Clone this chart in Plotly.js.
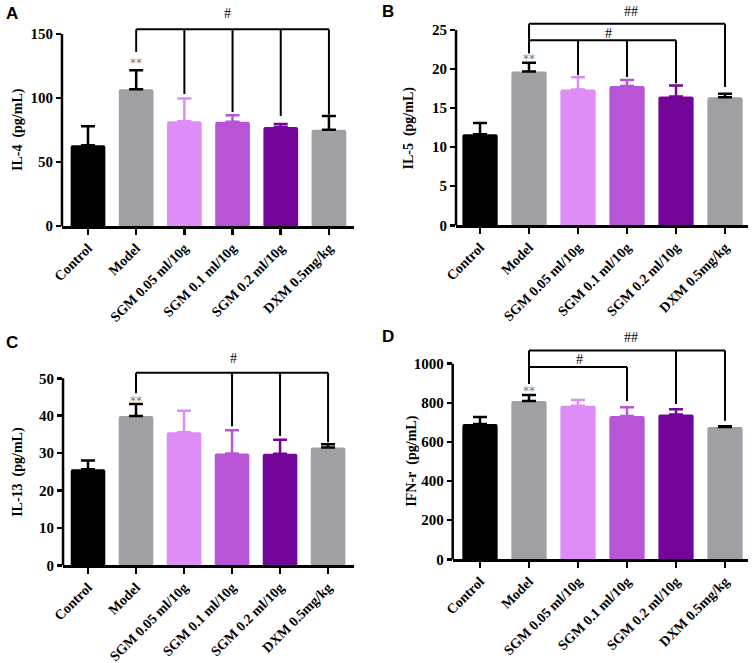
<!DOCTYPE html>
<html>
<head>
<meta charset="utf-8">
<script src="https://cdn.plot.ly/plotly-3.0.1.min.js"></script>
<style>html,body{margin:0;padding:0;background:#fff;}#chart{width:753px;height:663px;}</style>
</head>
<body>
<div id="chart"></div>
<script>
// ---- data ----
var categories = ['Control', 'Model', 'SGM 0.05 ml/10g', 'SGM 0.1 ml/10g', 'SGM 0.2 ml/10g', 'DXM 0.5mg/kg'];
var il4Mean  = [63, 106.8, 81.8, 81.5, 77.3, 75.2];
var il4Err   = [15, 14.8, 17.7, 5.0, 2.4, 10.8];
var il5Mean  = [11.65, 19.7, 17.4, 17.85, 16.5, 16.4];
var il5Err   = [1.45, 1.1, 1.55, 0.75, 1.4, 0.45];
var il13Mean = [25.7, 39.9, 35.6, 29.9, 29.8, 31.5];
var il13Err  = [2.3, 3.2, 5.7, 6.2, 3.8, 0.9];
var ifnMean  = [692, 809, 785, 733, 741, 676];
var ifnErr   = [35, 31, 29, 44, 26, 4];
var il4Ticks  = [0, 50, 100, 150];
var il5Ticks  = [0, 5, 10, 15, 20, 25];
var il13Ticks = [0, 10, 20, 30, 40, 50];
var ifnTicks  = [0, 200, 400, 600, 800, 1000];
var yTitles = ['IL-4\u00a0 (pg/mL)', 'IL-5\u00a0 (pg/mL)', 'IL-13\u00a0 (pg/mL)', 'IFN-r\u00a0 (pg/mL)'];
var panelLetters = ['A', 'B', 'C', 'D'];

// ---- styles ----
var barColors = ['#000000', '#A09FA4', '#DE8CF6', '#B854D6', '#730598', '#A09FA4'];
var errColors = ['#000000', '#000000', '#DE8CF6', '#B854D6', '#730598', '#000000'];
var serif = 'Liberation Serif, Times New Roman, serif';

var panels = [
  {sfx:'',  mean:il4Mean,  err:il4Err,  ticks:il4Ticks,  yr:[0,157],  xr:[-0.54,5.52], xd:[0.0823,0.4701], yd:[0.6591,0.9623], titleX:0.024, letter:[0.016,0.979]},
  {sfx:'2', mean:il5Mean,  err:il5Err,  ticks:il5Ticks,  yr:[0,26.3], xr:[-0.49,5.47], xd:[0.6056,0.9934], yd:[0.6602,0.9700], titleX:0.543, letter:[0.515,0.982]},
  {sfx:'3', mean:il13Mean, err:il13Err, ticks:il13Ticks, yr:[0,52.2], xr:[-0.52,5.54], xd:[0.0837,0.4701], yd:[0.1474,0.4418], titleX:0.024, letter:[0.016,0.484]},
  {sfx:'4', mean:ifnMean,  err:ifnErr,  ticks:ifnTicks,  yr:[0,1080], xr:[-0.557,5.47], xd:[0.6012,0.9934], yd:[0.1564,0.4750], titleX:0.546, letter:[0.515,0.492]}
];

// significance brackets: [yLevel, fromIdx, toIdx, drops [idx, yEnd]]
var brackets = [
  [ {y:153.6, from:1, to:5, drops:[[1,136],[2,103],[3,89],[4,86],[5,87]]} ],
  [ {y:25.8, from:1, to:5, drops:[[1,22.0],[5,17.7]]},
    {y:23.7, from:1, to:4, drops:[[2,19.2],[3,19.0],[4,18.2]]} ],
  [ {y:51.5, from:1, to:5, drops:[[1,46],[3,37.2],[4,34.6],[5,32.9]]} ],
  [ {y:1068, from:1, to:5, drops:[[1,896],[4,794],[5,709]]},
    {y:983, from:1, to:3, drops:[[3,809]]} ]
];
// significance labels: [text, xPos, yPos]
var sigLabels = [
  [['#', 2.9, 165.6], ['**', 1, 127]],
  [['##', 3.08, 27.4], ['#', 2.63, 24.6], ['**', 1, 21.3]],
  [['#', 3.03, 55.4], ['**', 1, 44]],
  [['##', 3.08, 1136], ['#', 2.04, 1024], ['**', 1, 860]]
];

var traces = [];
var layout = {
  width: 753, height: 663,
  margin: {l:0, r:0, t:0, b:0},
  paper_bgcolor: '#fff', plot_bgcolor: 'rgba(0,0,0,0)',
  barmode: 'overlay', showlegend: false,
  shapes: [], annotations: []
};

panels.forEach(function(p, pi) {
  var xa = 'x' + p.sfx, ya = 'y' + p.sfx;
  var toDom = function(v) { return (v - p.yr[0]) / (p.yr[1] - p.yr[0]); };
  for (var i = 0; i < categories.length; i++) {
    traces.push({
      type: 'bar', x: [categories[i]], y: [p.mean[i]],
      xaxis: xa, yaxis: ya, width: 0.72,
      marker: {color: barColors[i], line: {width: 0}, cornerradius: 2},
      error_y: {type: 'data', symmetric: false, array: [p.err[i]], arrayminus: [0],
                color: errColors[i], thickness: 2.5, width: 7},
      hoverinfo: 'skip', showlegend: false
    });
  }
  layout['xaxis' + p.sfx] = {
    domain: p.xd, anchor: ya, type: 'category',
    categoryorder: 'array', categoryarray: categories,
    range: p.xr, showline: true, linewidth: 2.5, linecolor: '#000',
    ticks: 'outside', ticklen: 6, tickwidth: 2.5, tickcolor: '#000',
    tickangle: -45, showgrid: false, zeroline: false, fixedrange: true,
    tickfont: {family: serif, size: 14, color: '#000', weight: 'bold'}
  };
  layout['yaxis' + p.sfx] = {
    domain: p.yd, anchor: xa, range: p.yr,
    showline: false, tickvals: p.ticks, ticktext: p.ticks.map(String),
    ticks: 'outside', ticklen: 5, tickwidth: 2.5, tickcolor: '#000',
    showgrid: false, zeroline: false, fixedrange: true,
    tickfont: {family: serif, size: 15, color: '#000', weight: 'bold'}
  };
  // y axis line only over the tick range
  var maxTick = p.ticks[p.ticks.length - 1];
  layout.shapes.push({type: 'line', xref: xa + ' domain', yref: ya + ' domain',
    x0: 0, x1: 0, y0: 0, y1: toDom(maxTick),
    line: {color: '#000', width: 2.5}});
  // brackets
  brackets[pi].forEach(function(b) {
    layout.shapes.push({type: 'line', xref: xa, yref: ya, x0: b.from, x1: b.to, y0: b.y, y1: b.y,
      line: {color: '#000', width: 2}});
    b.drops.forEach(function(d) {
      layout.shapes.push({type: 'line', xref: xa, yref: ya, x0: d[0], x1: d[0], y0: b.y, y1: d[1],
        line: {color: '#000', width: 2}});
    });
  });
  sigLabels[pi].forEach(function(s) {
    var star = s[0] === '**';
    layout.annotations.push({xref: xa, yref: ya + ' domain', x: s[1], y: toDom(s[2]), text: s[0], showarrow: false,
      xanchor: 'center', yanchor: 'middle',
      font: {family: star ? 'DejaVu Sans, sans-serif' : serif, size: star ? 12 : 14,
             color: star ? '#7a7a7a' : '#000'}});
  });
  // y axis title
  layout.annotations.push({xref: 'paper', yref: ya + ' domain', x: p.titleX, y: toDom(maxTick / 2),
    text: yTitles[pi], textangle: -90, showarrow: false, xanchor: 'center', yanchor: 'middle',
    font: {family: serif, size: 14, color: '#000', weight: 'bold'}});
  // panel letter
  layout.annotations.push({xref: 'paper', yref: 'paper', x: p.letter[0], y: p.letter[1],
    text: panelLetters[pi], showarrow: false, xanchor: 'center', yanchor: 'middle',
    font: {family: 'Liberation Sans, Arial, sans-serif', size: 17, color: '#000', weight: 'bold'}});
});

Plotly.newPlot('chart', traces, layout, {staticPlot: true, displayModeBar: false});
</script>
</body>
</html>
